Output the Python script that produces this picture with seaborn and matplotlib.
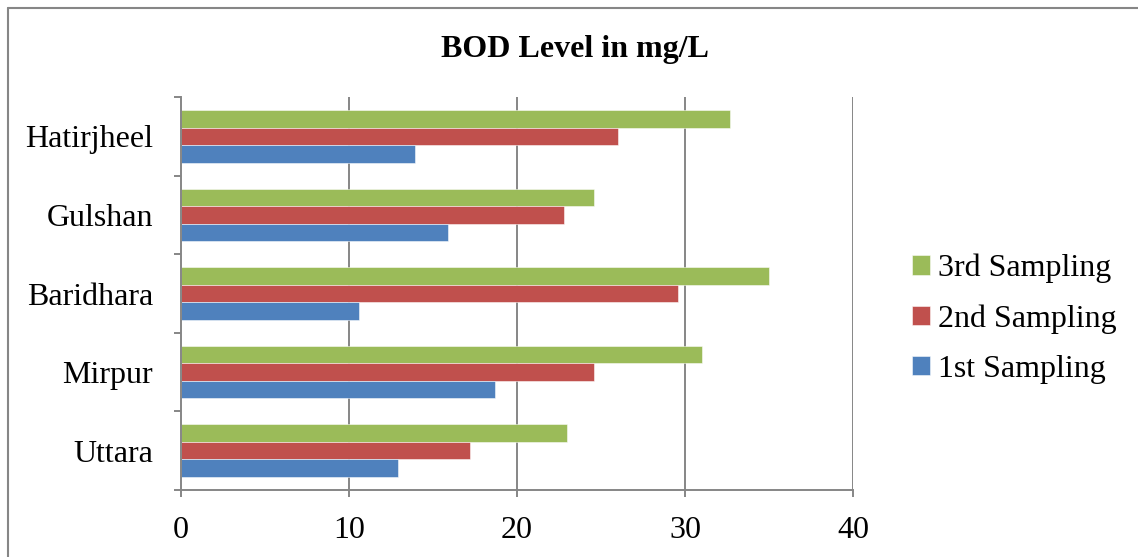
import matplotlib
matplotlib.use("Agg")
import matplotlib.pyplot as plt
import seaborn as sns
import pandas as pd
from matplotlib.lines import Line2D

locations = ["Hatirjheel", "Gulshan", "Baridhara", "Mirpur", "Uttara"]
sampling_1st = [13.9, 15.9, 10.6, 18.7, 12.9]
sampling_2nd = [26.0, 22.8, 29.6, 24.6, 17.2]
sampling_3rd = [32.7, 24.6, 35.0, 31.0, 23.0]
series_names = ["3rd Sampling", "2nd Sampling", "1st Sampling"]
series_colors = ["#9BBB59", "#C0504D", "#4F81BD"]
x_ticks = [0, 10, 20, 30, 40]
title = "BOD Level in mg/L"

rows = []
for name, vals in zip(series_names, [sampling_3rd, sampling_2nd, sampling_1st]):
    for loc, v in zip(locations, vals):
        rows.append({"Location": loc, "Sampling": name, "BOD": v})
df = pd.DataFrame(rows)

sns.set_theme(style="white")
plt.rcParams["font.family"] = ["Liberation Serif", "DejaVu Serif"]
plt.rcParams["text.color"] = "black"
plt.rcParams["xtick.color"] = "black"
plt.rcParams["ytick.color"] = "black"

W, H = 1138, 557
fig = plt.figure(figsize=(W / 100, H / 100), dpi=100)
ax = fig.add_axes([181 / W, 1 - 490 / H, (853 - 181) / W, (490 - 97) / H])

sns.barplot(data=df, y="Location", x="BOD", hue="Sampling", order=locations,
            hue_order=series_names, palette=series_colors, orient="h",
            width=0.67, dodge=True, ax=ax, edgecolor=(1, 1, 1, 0.6),
            linewidth=0.6, saturation=1, legend=True)

gray = "#868686"
ax.set_xlim(0, 40)
ax.set_ylim(len(locations) - 0.5, -0.5)
ax.set_xticks(x_ticks)
ax.set_xticklabels([str(t) for t in x_ticks])
ax.set_xlabel("")
ax.set_ylabel("")
ax.grid(False)
for t in x_ticks[1:]:
    ax.axvline(t, color=gray, lw=1.4, zorder=0)
ax.set_axisbelow(True)

for side in ["top", "right"]:
    ax.spines[side].set_visible(False)
for side in ["left", "bottom"]:
    ax.spines[side].set_color(gray)
    ax.spines[side].set_linewidth(1.4)

ax.set_yticks(range(len(locations)))
ax.set_yticklabels(locations)
ax.set_yticks([i - 0.5 for i in range(len(locations) + 1)], minor=True)
ax.tick_params(axis="y", which="major", length=0, pad=20, labelsize=23, labelcolor="black")
ax.tick_params(axis="y", which="minor", left=True, length=5, width=1.4, color=gray, direction="out")
ax.tick_params(axis="x", which="major", bottom=True, length=5, width=1.4, color=gray,
               direction="out", pad=14, labelsize=23, labelcolor="black")

ax.get_legend().remove()
handles, labels = ax.get_legend_handles_labels()
leg = fig.legend(handles, labels, loc="center left", bbox_to_anchor=(912 / W, 1 - 319 / H),
                 frameon=False, fontsize=23, handlelength=0.55, handleheight=0.55,
                 handletextpad=0.25, labelspacing=0.66, borderaxespad=0, borderpad=0)
for txt in leg.get_texts():
    txt.set_color("black")

fig.text(0.505, 1 - 50 / H, title, ha="center", va="center", fontsize=23,
         fontweight="bold", color="black")

y_top = 1 - 7.5 / H
x_left = 7.5 / W
fig.add_artist(Line2D([x_left, 1.0], [y_top, y_top], transform=fig.transFigure,
                      color=gray, lw=1.5))
fig.add_artist(Line2D([x_left, x_left], [0.0, y_top], transform=fig.transFigure,
                      color=gray, lw=1.5))

fig.savefig("out.png", dpi=100, facecolor="white")
